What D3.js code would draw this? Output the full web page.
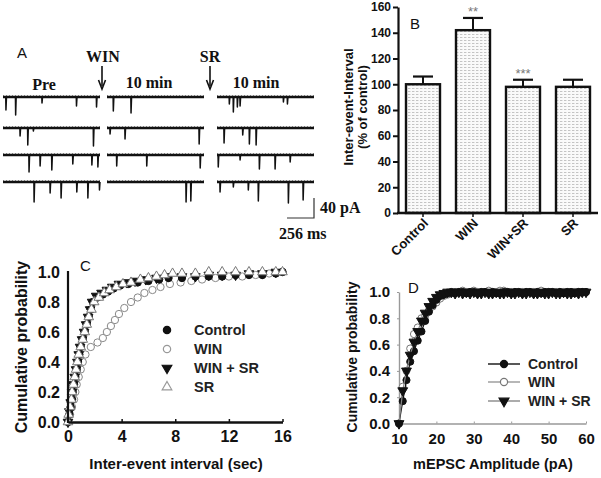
<!DOCTYPE html>
<html><head><meta charset="utf-8">
<script src="https://cdn.jsdelivr.net/npm/d3@7"></script>
<style>body{margin:0;background:#fff} svg{display:block}</style>
</head><body>
<svg id="fig" width="601" height="478"></svg>
<script>
// ---------------- DATA ----------------
// Panel A: miniature events per sweep, [time (ms), amplitude (pA)]
const sweepMs = 920;
const aConditions = ["Pre", "10 min", "10 min"];
const preEvents = [
  [[28,26],[120,36],[370,12],[697,18],[887,20]],
  [[162,16],[235,34],[288,6],[858,36]],
  [[247,34],[352,22],[463,30],[662,18],[843,20],[900,24]],
  [[295,40],[447,22],[551,32],[700,20],[805,32],[915,16]]
];
const winEvents = [
  [[60,28],[228,32]],
  [[29,12],[171,22],[874,32]],
  [[92,22],[377,22],[884,26]],
  [[750,40],[795,38]]
];
const srEvents = [
  [[117,14],[155,30],[193,20],[219,18],[630,10],[668,14]],
  [[67,30],[244,14],[307,32],[371,34]],
  [[12,24],[219,10],[402,28],[551,28],[694,14]],
  [[29,20],[155,10],[297,16],[392,38],[677,42],[817,36]]
];
const scaleBarPA = 40, scaleBarMs = 256;

// Panel B
const bCategories = ["Control", "WIN", "WIN+SR", "SR"];
const bValues = [100, 142, 98, 98];
const bErrors = [6, 9.5, 5.5, 5.5];
const bSignif = ["", "**", "***", ""];
const bTicks = [0, 20, 40, 60, 80, 100, 120, 140, 160];

// Panel C: cumulative probability of inter-event interval [sec, p]
const cControl = [[0,0],[0.1,0.05],[0.2,0.1],[0.3,0.15],[0.35,0.2],[0.45,0.25],[0.55,0.3],[0.65,0.35],[0.75,0.4],[0.85,0.45],[0.95,0.5],[1.1,0.55],[1.25,0.6],[1.4,0.65],[1.55,0.7],[1.7,0.75],[1.85,0.8],[2.2,0.83],[2.6,0.85],[3.0,0.87],[3.4,0.89],[3.9,0.91],[4.5,0.92],[5.2,0.93],[6.0,0.94],[6.8,0.95],[7.5,0.96],[8.5,0.96],[9.5,0.97],[10.5,0.97],[11.5,0.97],[12.5,0.98],[13.5,0.98],[14.5,0.98],[15.5,0.99],[16,1.0]];
const cWin = [[0,0],[0.15,0.05],[0.3,0.1],[0.45,0.15],[0.55,0.2],[0.65,0.25],[0.8,0.3],[0.95,0.35],[1.1,0.4],[1.3,0.45],[1.7,0.5],[2.2,0.53],[2.6,0.56],[2.9,0.6],[3.2,0.64],[3.5,0.68],[3.8,0.72],[4.2,0.76],[4.7,0.8],[5.2,0.83],[5.7,0.86],[6.3,0.88],[6.9,0.9],[7.6,0.92],[8.4,0.93],[9.2,0.94],[10,0.95],[11,0.96],[12,0.97],[13,0.97],[14,0.98],[15,0.99],[16,1.0]];
const cWinSr = [[0,0],[0.1,0.07],[0.2,0.13],[0.3,0.2],[0.4,0.25],[0.5,0.3],[0.6,0.35],[0.7,0.4],[0.8,0.45],[0.9,0.5],[1.05,0.55],[1.2,0.6],[1.35,0.65],[1.5,0.7],[1.65,0.75],[1.8,0.8],[2.1,0.84],[2.5,0.86],[2.9,0.88],[3.3,0.9],[3.8,0.92],[4.4,0.93],[5.0,0.94],[5.8,0.95],[6.6,0.96],[7.5,0.97],[8.5,0.97],[9.5,0.97],[10.5,0.98],[11.5,0.98],[12.5,0.98],[13.5,0.99],[14.5,0.99],[15.5,1.0]];
const cSr = [[0,0],[0.05,0.05],[0.15,0.1],[0.25,0.15],[0.3,0.2],[0.4,0.25],[0.5,0.3],[0.6,0.35],[0.7,0.4],[0.8,0.45],[0.95,0.5],[1.1,0.55],[1.25,0.6],[1.4,0.65],[1.55,0.7],[1.75,0.75],[1.95,0.8],[2.3,0.83],[2.7,0.86],[3.1,0.88],[3.6,0.9],[4.1,0.92],[4.7,0.93],[5.4,0.95],[6.0,0.96],[6.6,0.97],[7.2,0.98],[7.8,0.99],[8.5,0.99],[9.5,0.99],[10.5,1.0],[11.5,1.0],[12.5,1.0],[13.5,1.0],[14.5,1.0],[15.5,1.0],[16,1.0]];
const cTicksX = [0, 4, 8, 12, 16];
const cTicksY = [0, 0.2, 0.4, 0.6, 0.8, 1.0];

// Panel D: cumulative probability of mEPSC amplitude
const dAmp = [10,11,12,13,14,15,16,17,18,19,20,21,22,23,24,25,26,27,28,29,30,31,32,33,34,35,36,37,38,39,40,41,42,43,44,45,46,47,48,49,50,51,52,53,54,55,56,57,58,59,60];
const dControl = [0,0.17,0.33,0.47,0.55,0.63,0.70,0.78,0.85,0.90,0.94,0.97,0.98,0.99,1.0,0.99,1.0,1.0,0.99,1.0,1.0,0.99,1.0,1.0,0.99,1.0,0.99,0.99,1.0,1.0,0.99,1.0,1.0,0.99,1.0,1.0,0.99,1.0,0.99,1.0,1.0,1.0,0.99,1.0,0.99,1.0,1.0,0.99,1.0,1.0,1.0];
const dWin = [0,0.28,0.40,0.57,0.68,0.73,0.80,0.82,0.86,0.89,0.92,0.95,0.97,0.98,0.99,1.0,1.0,1.01,1.0,1.0,1.01,1.0,1.0,1.0,1.01,1.0,1.0,1.01,1.01,1.0,1.0,1.0,1.0,1.0,1.0,1.0,1.0,1.0,1.01,1.0,1.0,1.0,1.0,1.0,1.0,1.0,1.0,1.0,1.0,1.0,1.0];
const dWinSr = [0,0.25,0.40,0.52,0.62,0.70,0.78,0.84,0.89,0.93,0.96,0.98,0.99,1.0,1.0,0.99,1.0,0.99,1.0,0.99,1.0,0.99,0.99,1.0,0.99,0.99,1.0,0.99,0.99,1.0,0.99,0.99,1.0,0.99,0.99,1.0,0.99,0.99,1.0,0.99,0.99,1.0,0.99,0.99,1.0,0.99,0.99,1.0,0.99,1.0,1.0];
const dTicksX = [10, 20, 30, 40, 50, 60];
const dTicksY = [0, 0.2, 0.4, 0.6, 0.8, 1.0];

// ---------------- DRAW ----------------
const svg = d3.select("#fig");
svg.append("rect").attr("width", 601).attr("height", 478).attr("fill", "#fff");
const SANS = "Liberation Sans, Arial, sans-serif";
const SERIF = "Liberation Serif, Times New Roman, serif";

// ===== Panel A =====
(function(){
  const g = svg.append("g");
  const colX = [3, 107, 217], rowY = [97, 128, 155, 182];
  const sweeps = [preEvents, winEvents, srEvents];
  const pxPerMs = 97 / sweepMs, pxPerPA = 0.5;
  sweeps.forEach((cond, ci) => {
    const tx = d3.scaleLinear().domain([0, sweepMs]).range([colX[ci], colX[ci] + 97]);
    cond.forEach((events, ri) => {
      const ty = d3.scaleLinear().domain([0, 40]).range([rowY[ri], rowY[ri] + 40 * pxPerPA]);
      g.append("line").attr("x1", tx(0)).attr("x2", tx(sweepMs)).attr("y1", ty(0)).attr("y2", ty(0))
        .attr("stroke", "#111").attr("stroke-width", 2.6);
      const line = d3.line().x(d => tx(d[0])).y(d => ty(d[1]));
      events.forEach(ev => {
        g.append("path").attr("d", line([[ev[0] - 2, 0], [ev[0], ev[1]], [ev[0] + 5, 0]]))
          .attr("fill", "none").attr("stroke", "#111").attr("stroke-width", 1.5).attr("stroke-linejoin", "round");
      });
      g.append("line").attr("x1", tx(0)).attr("x2", tx(sweepMs)).attr("y1", ty(0) - 1.4).attr("y2", ty(0) - 1.4)
        .attr("stroke", "#555").attr("stroke-width", 0.8).attr("stroke-dasharray", "1,2");
    });
  });
  const t = (txt, x, y, opt={}) => g.append("text").attr("x", x).attr("y", y).text(txt)
      .attr("font-family", opt.ff || SERIF).attr("font-weight", opt.fw || "bold")
      .attr("font-size", opt.fs || 16).attr("text-anchor", opt.ta || "start").attr("fill", "#111");
  t("A", 17, 58, {ff: SANS, fw: "normal", fs: 15});
  t("WIN", 103, 62, {ta: "middle"});
  t("SR", 210, 62, {ta: "middle"});
  t(aConditions[0], 44, 90, {ta: "middle"});
  t(aConditions[1], 149, 88, {ta: "middle"});
  t(aConditions[2], 256, 88, {ta: "middle"});
  [102, 210].forEach(x => {
    g.append("line").attr("x1", x).attr("x2", x).attr("y1", 66).attr("y2", 86).attr("stroke", "#111").attr("stroke-width", 1.6);
    g.append("path").attr("d", `M${x-3.5},80 L${x},89 L${x+3.5},80`).attr("fill", "none").attr("stroke", "#111").attr("stroke-width", 1.6);
  });
  const sx = 314, sy = 218;
  g.append("path").attr("d", `M${sx - scaleBarMs * pxPerMs},${sy} L${sx},${sy} L${sx},${sy - scaleBarPA * pxPerPA}`)
    .attr("fill", "none").attr("stroke", "#333").attr("stroke-width", 1.2);
  t(scaleBarPA + " pA", 320, 213);
  t(scaleBarMs + " ms", 279, 239);
})();

// ===== Panel B =====
(function(){
  const g = svg.append("g");
  const defs = svg.append("defs");
  const pat = defs.append("pattern").attr("id", "stip").attr("patternUnits", "userSpaceOnUse")
    .attr("width", 4).attr("height", 3);
  pat.append("rect").attr("width", 4).attr("height", 3).attr("fill", "#fafafa");
  pat.append("rect").attr("x", 0).attr("y", 1).attr("width", 2.4).attr("height", 1).attr("fill", "#c4c4c4");
  const x = d3.scaleBand().domain(bCategories).range([398, 598]).paddingInner(0.32).paddingOuter(0.16);
  const y = d3.scaleLinear().domain([0, 160]).range([213, 7]);
  g.selectAll("rect.bar").data(bCategories).join("rect").attr("class", "bar")
    .attr("x", d => x(d)).attr("width", x.bandwidth())
    .attr("y", (d, i) => y(bValues[i])).attr("height", (d, i) => y(0) - y(bValues[i]))
    .attr("fill", "url(#stip)").attr("stroke", "#111").attr("stroke-width", 2.4);
  bCategories.forEach((c, i) => {
    const cx = x(c) + x.bandwidth() / 2;
    g.append("line").attr("x1", cx).attr("x2", cx).attr("y1", y(bValues[i])).attr("y2", y(bValues[i] + bErrors[i])).attr("stroke", "#111").attr("stroke-width", 2);
    g.append("line").attr("x1", cx - 10).attr("x2", cx + 10).attr("y1", y(bValues[i] + bErrors[i])).attr("y2", y(bValues[i] + bErrors[i])).attr("stroke", "#111").attr("stroke-width", 2.2);
    if (bSignif[i]) g.append("text").attr("x", cx).attr("y", y(bValues[i] + bErrors[i]) - 2).attr("text-anchor", "middle")
      .attr("font-family", SANS).attr("font-size", 13).attr("fill", "#777").text(bSignif[i]);
  });
  const ya = g.append("g").attr("transform", "translate(398,0)")
    .call(d3.axisLeft(y).tickValues(bTicks).tickSize(5).tickPadding(2).tickSizeOuter(0));
  ya.select(".domain").attr("stroke", "#111").attr("stroke-width", 2.2);
  ya.selectAll(".tick line").attr("stroke", "#111").attr("stroke-width", 2);
  ya.selectAll(".tick text").attr("font-family", SANS).attr("font-weight", "bold").attr("font-size", 12).attr("fill", "#111");
  g.append("line").attr("x1", 397).attr("x2", 598).attr("y1", 213).attr("y2", 213).attr("stroke", "#111").attr("stroke-width", 2.4);
  bCategories.forEach(c => {
    const cx = x(c) + x.bandwidth() / 2;
    g.append("line").attr("x1", cx).attr("x2", cx).attr("y1", 213).attr("y2", 217).attr("stroke", "#111").attr("stroke-width", 1.5);
    g.append("text").attr("transform", `translate(${cx + 6},${224}) rotate(-45)`).attr("text-anchor", "end")
      .attr("font-family", SANS).attr("font-weight", "bold").attr("font-size", 13).attr("fill", "#111").text(c);
  });
  g.append("text").attr("transform", "translate(353,107) rotate(-90)").attr("text-anchor", "middle")
    .attr("font-family", SANS).attr("font-weight", "bold").attr("font-size", 13).attr("fill", "#111").text("Inter-event-Interval");
  g.append("text").attr("transform", "translate(367,107) rotate(-90)").attr("text-anchor", "middle")
    .attr("font-family", SANS).attr("font-weight", "bold").attr("font-size", 13).attr("fill", "#111").text("(% of control)");
  g.append("text").attr("x", 410).attr("y", 29).attr("font-family", SANS).attr("font-size", 15).attr("fill", "#111").text("B");
})();

// ===== Panel C =====
(function(){
  const g = svg.append("g");
  const x = d3.scaleLinear().domain([0, 16]).range([68, 282.5]);
  const y = d3.scaleLinear().domain([0, 1]).range([422, 272]);
  const circ = d3.symbol(d3.symbolCircle, 42)();
  const tri = d3.symbol(d3.symbolTriangle, 40)();
  const series = [
    {data: cWin, sym: circ, rot: 0, fill: "#fff", stroke: "#888"},
    {data: cControl, sym: circ, rot: 0, fill: "#111", stroke: "#111"},
    {data: cWinSr, sym: tri, rot: 180, fill: "#111", stroke: "#111"},
    {data: cSr, sym: tri, rot: 0, fill: "#fff", stroke: "#777"}
  ];
  series.forEach(s => {
    g.selectAll(null).data(s.data).join("path").attr("d", s.sym)
      .attr("transform", d => `translate(${x(d[0])},${y(d[1])}) rotate(${s.rot})`)
      .attr("fill", s.fill).attr("stroke", s.stroke).attr("stroke-width", 1);
  });
  g.append("line").attr("x1", 68).attr("x2", 68).attr("y1", 271).attr("y2", 423).attr("stroke", "#111").attr("stroke-width", 2.2);
  const xa = g.append("g").attr("transform", "translate(0,422)")
    .call(d3.axisBottom(x).tickValues(cTicksX).tickSize(-3).tickPadding(9).tickSizeOuter(0));
  xa.select(".domain").attr("stroke", "#111").attr("stroke-width", 2.4);
  xa.selectAll(".tick line").attr("stroke", "#111").attr("stroke-width", 1.5);
  xa.selectAll(".tick text").attr("font-family", SANS).attr("font-weight", "bold").attr("font-size", 16).attr("fill", "#111");
  const ya = g.append("g").attr("transform", "translate(68,0)")
    .call(d3.axisLeft(y).tickValues(cTicksY).tickFormat(d3.format(".1f")).tickSize(0).tickPadding(8));
  ya.select(".domain").remove();
  ya.selectAll(".tick text").attr("font-family", SANS).attr("font-weight", "bold").attr("font-size", 16).attr("fill", "#111");
  g.append("text").attr("transform", "translate(27,347) rotate(-90)").attr("text-anchor", "middle")
    .attr("font-family", SANS).attr("font-weight", "bold").attr("font-size", 16).attr("fill", "#111").text("Cumulative probability");
  g.append("text").attr("x", 176).attr("y", 469).attr("text-anchor", "middle")
    .attr("font-family", SANS).attr("font-weight", "bold").attr("font-size", 15).attr("fill", "#111").text("Inter-event interval (sec)");
  g.append("text").attr("x", 80).attr("y", 271).attr("font-family", SANS).attr("font-size", 15).attr("fill", "#111").text("C");
  const leg = [["Control", circ, 0, "#111", "#111"], ["WIN", circ, 0, "#fff", "#999"], ["WIN + SR", tri, 180, "#111", "#111"], ["SR", tri, 0, "#fff", "#999"]];
  const ly = [330, 349, 368, 387];
  leg.forEach((l, i) => {
    g.append("path").attr("d", l[1]).attr("transform", `translate(167,${ly[i]}) rotate(${l[2]})`).attr("fill", l[3]).attr("stroke", l[4]).attr("stroke-width", 1.2);
    g.append("text").attr("x", 194).attr("y", ly[i] + 5).attr("font-family", SANS).attr("font-weight", "bold").attr("font-size", 14.5).attr("fill", "#222").text(l[0]);
  });
})();

// ===== Panel D =====
(function(){
  const g = svg.append("g");
  const x = d3.scaleLinear().domain([10, 60]).range([399, 586]);
  const y = d3.scaleLinear().domain([0, 1]).range([423.5, 292]);
  const circ = d3.symbol(d3.symbolCircle, 40)();
  const tri = d3.symbol(d3.symbolTriangle, 42)();
  const xa = g.append("g").attr("transform", "translate(0,423.5)")
    .call(d3.axisBottom(x).tickValues(dTicksX).tickSize(-2).tickPadding(10).tickSizeOuter(0));
  xa.select(".domain").attr("stroke", "#999").attr("stroke-width", 1.4);
  xa.selectAll(".tick line").attr("stroke", "#999");
  xa.selectAll(".tick text").attr("font-family", SANS).attr("font-weight", "bold").attr("font-size", 15).attr("fill", "#111");
  const ya = g.append("g").attr("transform", "translate(399,0)")
    .call(d3.axisLeft(y).tickValues(dTicksY).tickFormat(d3.format(".1f")).tickSize(2).tickPadding(7).tickSizeOuter(0));
  ya.select(".domain").attr("stroke", "#999").attr("stroke-width", 1.4);
  ya.selectAll(".tick line").attr("stroke", "#999");
  ya.selectAll(".tick text").attr("font-family", SANS).attr("font-weight", "bold").attr("font-size", 15).attr("fill", "#111");
  const series = [
    {vals: dWin, sym: circ, rot: 0, fill: "#fff", stroke: "#777", line: "#999"},
    {vals: dControl, sym: circ, rot: 0, fill: "#111", stroke: "#111", line: "#111"},
    {vals: dWinSr, sym: tri, rot: 180, fill: "#111", stroke: "#111", line: "#888"}
  ];
  series.forEach(s => {
    const pts = dAmp.map((a, i) => [a, s.vals[i]]);
    g.append("path").attr("d", d3.line().x(d => x(d[0])).y(d => y(d[1]))(pts)).attr("fill", "none").attr("stroke", s.line).attr("stroke-width", 1.2);
    g.selectAll(null).data(pts).join("path").attr("d", s.sym)
      .attr("transform", d => `translate(${x(d[0])},${y(d[1])}) rotate(${s.rot})`)
      .attr("fill", s.fill).attr("stroke", s.stroke).attr("stroke-width", 1);
  });
  g.append("text").attr("transform", "translate(357,357) rotate(-90)").attr("text-anchor", "middle")
    .attr("font-family", SANS).attr("font-weight", "bold").attr("font-size", 14).attr("fill", "#111").text("Cumulative probability");
  g.append("text").attr("x", 493).attr("y", 469).attr("text-anchor", "middle")
    .attr("font-family", SANS).attr("font-weight", "bold").attr("font-size", 14.5).attr("fill", "#111").text("mEPSC Amplitude (pA)");
  g.append("text").attr("x", 408).attr("y", 293).attr("font-family", SANS).attr("font-size", 15).attr("fill", "#111").text("D");
  const leg = [["Control", circ, 0, "#111", "#111", "#111"], ["WIN", circ, 0, "#fff", "#777", "#999"], ["WIN + SR", tri, 180, "#111", "#111", "#888"]];
  const ly = [364, 382, 401];
  leg.forEach((l, i) => {
    g.append("line").attr("x1", 488).attr("x2", 520).attr("y1", ly[i]).attr("y2", ly[i]).attr("stroke", l[5]).attr("stroke-width", 1.4);
    g.append("path").attr("d", l[1]).attr("transform", `translate(504,${ly[i]}) rotate(${l[2]})`).attr("fill", l[3]).attr("stroke", l[4]).attr("stroke-width", 1.2);
    g.append("text").attr("x", 528).attr("y", ly[i] + 5).attr("font-family", SANS).attr("font-weight", "bold").attr("font-size", 14).attr("fill", "#222").text(l[0]);
  });
})();
</script>
</body></html>
